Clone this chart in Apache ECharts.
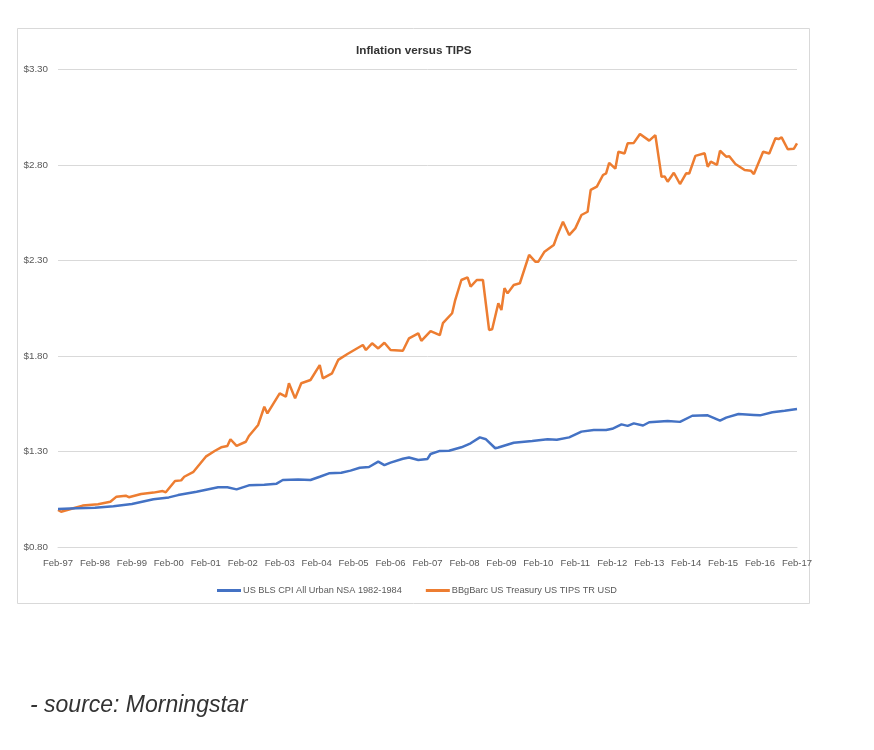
<!DOCTYPE html>
<html>
<head>
<meta charset="utf-8">
<script src="https://cdn.jsdelivr.net/npm/echarts@6/dist/echarts.min.js"></script>
<style>
html,body{margin:0;padding:0;background:#fff;}
#chart{width:874px;height:750px;}
</style>
</head>
<body>
<div id="chart"></div>
<script>
// X axis tick labels (one per 12 months, starting Feb-97)
const tickLabels = ['Feb-97','Feb-98','Feb-99','Feb-00','Feb-01','Feb-02','Feb-03','Feb-04','Feb-05','Feb-06','Feb-07',
  'Feb-08','Feb-09','Feb-10','Feb-11','Feb-12','Feb-13','Feb-14','Feb-15','Feb-16','Feb-17'];
const yTicks = [0.80, 1.30, 1.80, 2.30, 2.80, 3.30];

// US BLS CPI All Urban NSA 1982-1984 (months since Feb-97, growth of $1)
const cpiMonths = [0,6,12,18,24,31,36,39,45,52,55,58,62,67,71,73,78,82,85,88,92,95,98,101,104,106,108,112,114,117,120,121,124,127,131,134,137,139,142,143,148,154,159,162,166,170,174,178,180,183,185,187,190,192,198,202,206,211,215,217,221,226,228,232,236,240];
const cpiValues = [1.000,1.004,1.007,1.015,1.026,1.051,1.061,1.073,1.091,1.114,1.114,1.103,1.124,1.127,1.133,1.152,1.155,1.152,1.169,1.187,1.190,1.201,1.216,1.220,1.248,1.230,1.243,1.263,1.270,1.257,1.262,1.288,1.304,1.305,1.323,1.344,1.375,1.365,1.318,1.322,1.347,1.356,1.365,1.362,1.375,1.405,1.413,1.413,1.420,1.443,1.435,1.448,1.437,1.454,1.460,1.456,1.488,1.490,1.462,1.478,1.497,1.492,1.490,1.506,1.514,1.523];

// BBgBarc US Treasury US TIPS TR USD (months since Feb-97, growth of $1)
const tipsMonths = [0,1,5,8,13,17,19,22,23,27,31,34,35,38,40,41,44,48,51,53,55,56,58,61,62,65,67,68,70,72,74,75,77,79,82,85,86,89,91,94,99,100,102,104,106,108,112,114,117,118,121,124,125,128,129,131,133,134,136,138,140,141,143,144,145,146,148,150,153,155,156,158,161,162,164,166,168,170,172,173,175,177,178,179,181,182,184,185,187,189,192,194,196,197,198,200,202,204,205,207,210,211,212,214,215,217,218,220,223,225,226,229,231,233,234,235,237,239,240];
const tipsValues = [0.995,0.986,1.004,1.018,1.025,1.038,1.065,1.070,1.062,1.079,1.086,1.094,1.088,1.147,1.150,1.169,1.195,1.274,1.305,1.323,1.330,1.365,1.330,1.352,1.382,1.440,1.535,1.500,1.553,1.605,1.588,1.658,1.579,1.658,1.675,1.753,1.684,1.710,1.780,1.811,1.858,1.832,1.867,1.840,1.870,1.832,1.828,1.893,1.919,1.880,1.931,1.910,1.972,2.024,2.093,2.198,2.212,2.163,2.198,2.198,1.937,1.940,2.076,2.041,2.155,2.128,2.172,2.181,2.329,2.294,2.294,2.346,2.381,2.425,2.503,2.433,2.468,2.538,2.555,2.669,2.686,2.747,2.756,2.811,2.780,2.869,2.860,2.913,2.915,2.962,2.927,2.956,2.738,2.740,2.712,2.759,2.700,2.756,2.755,2.847,2.861,2.790,2.817,2.800,2.874,2.843,2.845,2.805,2.773,2.770,2.752,2.869,2.860,2.939,2.935,2.944,2.882,2.885,2.913];

const seriesNames = ['US BLS CPI All Urban NSA 1982-1984', 'BBgBarc US Treasury US TIPS TR USD'];

const cpiData = cpiMonths.map((m, i) => [m, cpiValues[i]]);
const tipsData = tipsMonths.map((m, i) => [m, tipsValues[i]]);

const FONT = "'Liberation Sans Narrow', 'Arial Narrow', 'Liberation Sans', sans-serif";
const chart = echarts.init(document.getElementById('chart'), null, {renderer: 'canvas'});
chart.setOption({
  backgroundColor: '#ffffff',
  animation: false,
  graphic: [
    {type: 'rect', shape: {x: 17.5, y: 28.5, width: 792, height: 575},
     style: {fill: 'none', stroke: '#d9d9d9', lineWidth: 1}, z: -1},
    {type: 'text', left: 30, top: 694,
     style: {text: '- source: Morningstar', font: "italic 23px " + FONT, fill: '#333333'}}
  ],
  title: {
    text: 'Inflation versus TIPS',
    left: 351, top: 40,
    textStyle: {fontFamily: FONT, fontSize: 11.7, fontWeight: 'bold', color: '#333333'}
  },
  legend: {
    left: 212, top: 581,
    itemWidth: 24, itemHeight: 3, itemGap: 24,
    icon: 'rect',
    textStyle: {fontFamily: FONT, fontSize: 9.2, color: '#595959', padding: [0,0,0,-3]},
    data: seriesNames
  },
  grid: {left: 58, right: 77, top: 69.3, bottom: 202.7, containLabel: false},
  xAxis: {
    type: 'value', min: 0, max: 240, interval: 12,
    axisLine: {show: true, lineStyle: {color: '#d9d9d9', width: 1}},
    axisTick: {show: false},
    splitLine: {show: false},
    axisLabel: {
      fontFamily: FONT, fontSize: 9.5, color: '#595959', margin: 11,
      formatter: v => tickLabels[Math.round(v / 12)] || ''
    }
  },
  yAxis: {
    type: 'value', min: yTicks[0], max: yTicks[yTicks.length - 1], interval: 0.5,
    axisLine: {show: false},
    axisTick: {show: false},
    splitLine: {show: true, lineStyle: {color: '#d9d9d9', width: 1}},
    axisLabel: {
      fontFamily: FONT, fontSize: 9.8, color: '#595959', margin: 10,
      formatter: v => '$' + v.toFixed(2)
    }
  },
  series: [
    {name: seriesNames[0], type: 'line', data: cpiData, showSymbol: false, symbol: 'none',
     lineStyle: {color: '#4472C4', width: 2.5}, itemStyle: {color: '#4472C4'}, z: 3},
    {name: seriesNames[1], type: 'line', data: tipsData, showSymbol: false, symbol: 'none',
     lineStyle: {color: '#ED7D31', width: 2.5}, itemStyle: {color: '#ED7D31'}, z: 2}
  ]
});
</script>
</body>
</html>
